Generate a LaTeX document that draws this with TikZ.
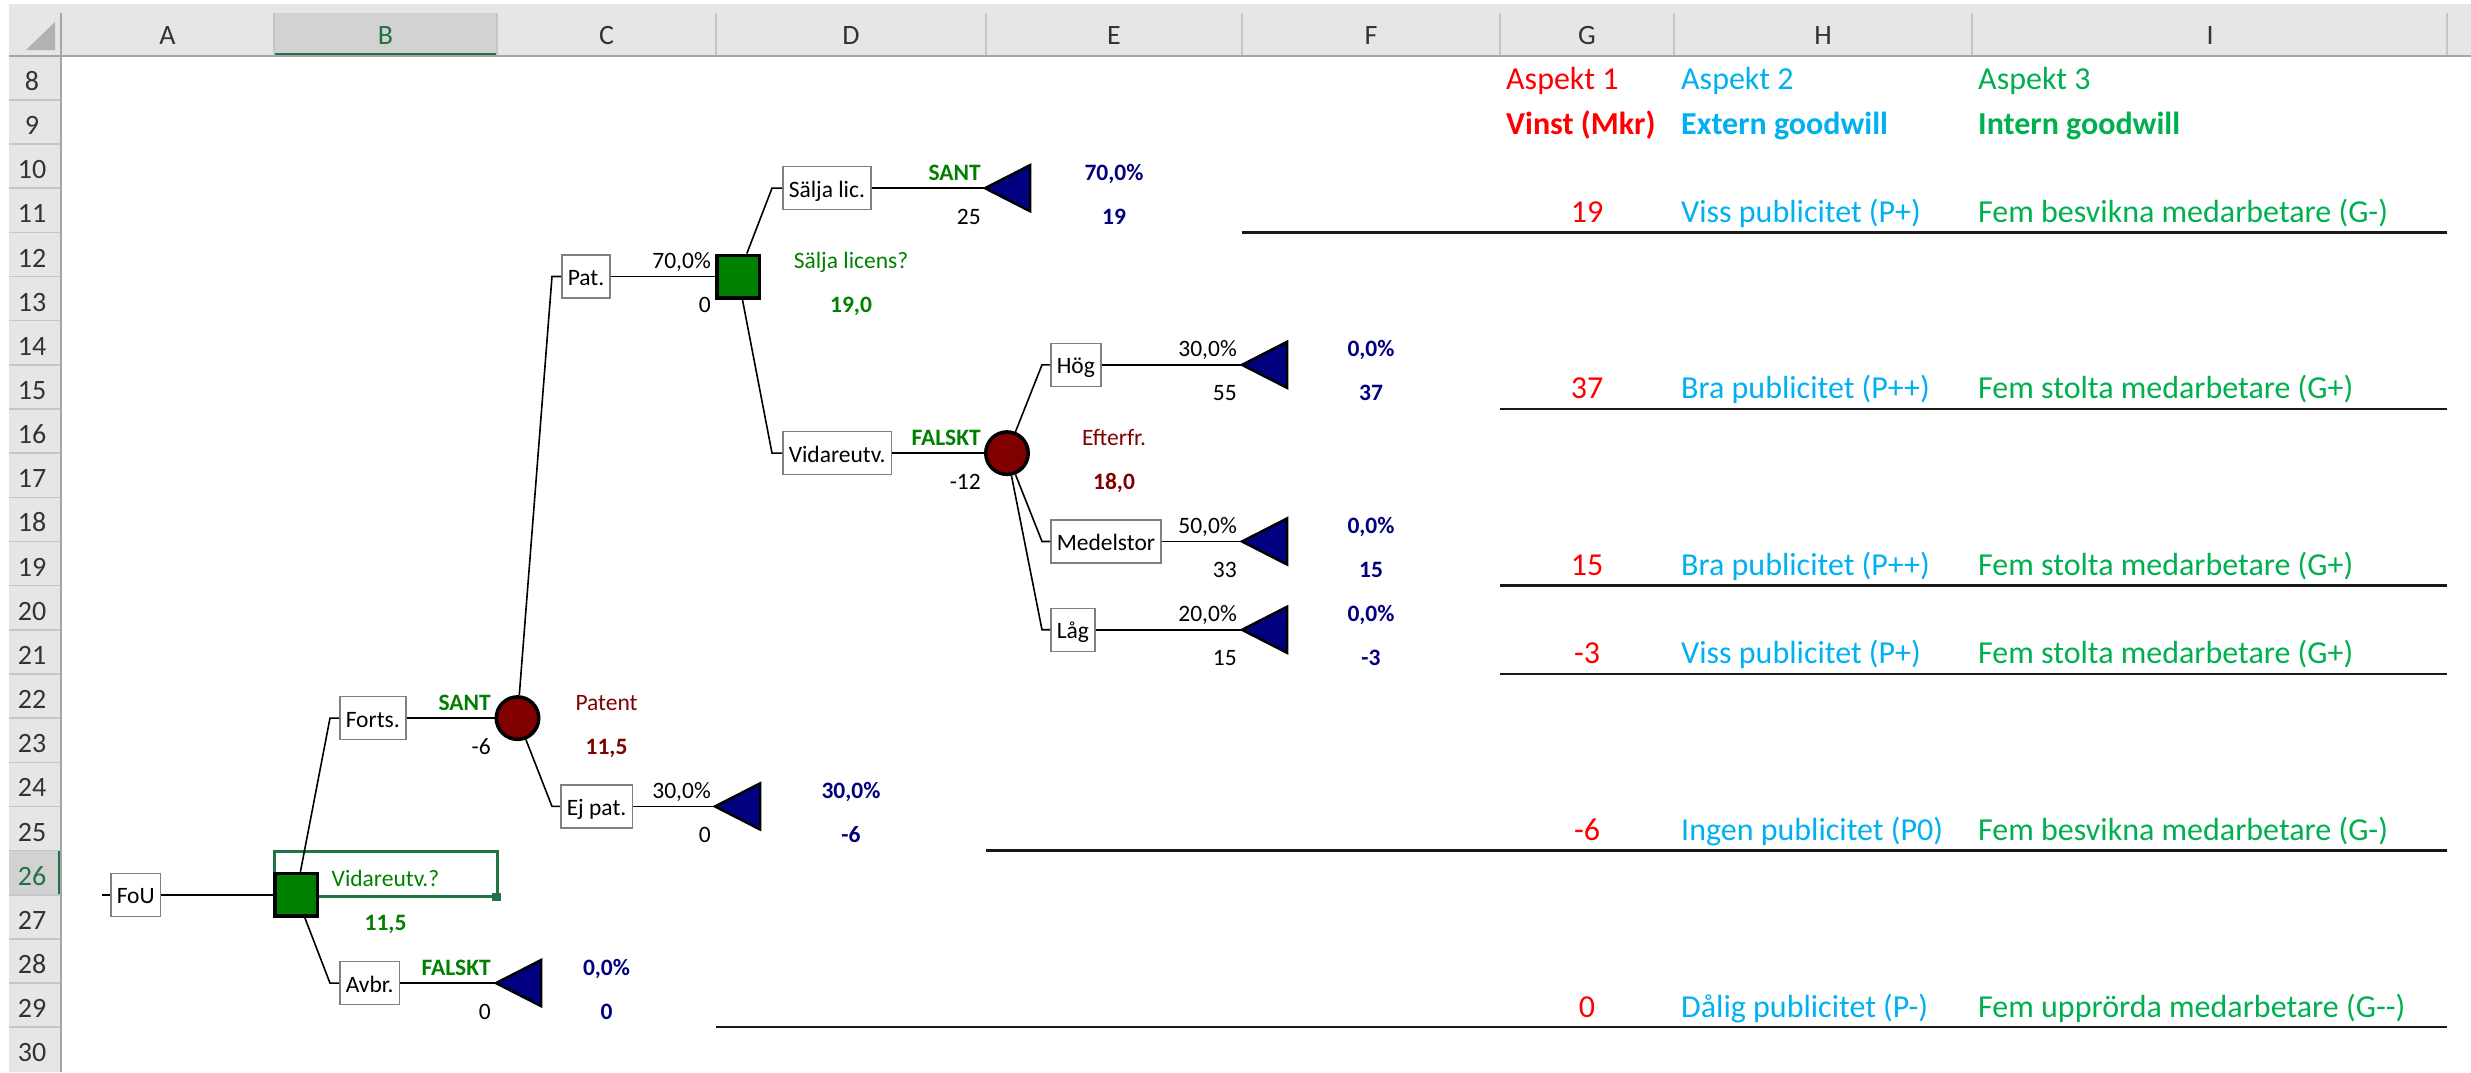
\documentclass[tikz,border=0pt]{standalone}
\usepackage{fontspec}
\setmainfont{Carlito}
\usetikzlibrary{calc}

\definecolor{hdrbg}{HTML}{E6E6E6}
\definecolor{hdrsel}{HTML}{D2D2D2}
\definecolor{hdrline}{HTML}{C6C6C6}
\definecolor{hdrbot}{HTML}{A6A6A6}
\definecolor{hdrtext}{HTML}{333333}
\definecolor{xlgreen}{HTML}{217346}
\definecolor{decgreen}{HTML}{008000}
\definecolor{chred}{HTML}{800000}
\definecolor{endnavy}{HTML}{000080}
\definecolor{boxgray}{HTML}{808080}
\definecolor{asp1}{HTML}{FF0000}
\definecolor{asp2}{HTML}{00B0F0}
\definecolor{asp3}{HTML}{00B050}

\newcommand\treefont{\fontsize{23.5}{28}\selectfont}
\newcommand\cellfont{\fontsize{32}{38}\selectfont}
\newcommand\hdrfont{\fontsize{28}{33}\selectfont}
% bottom edge of a worksheet row
\newcommand\rowb[1]{(55.7+(#1-7)*44.16)}

\begin{document}
\begin{tikzpicture}[x=1pt,y=-1pt,
  branchbox/.style={draw=boxgray, line width=1.5pt, fill=white, font=\treefont,
    minimum height=43pt, inner xsep=6pt, inner ysep=0pt, text height=20pt, text depth=2pt, anchor=west},
  decnode/.style={rectangle, fill=decgreen, draw=black, line width=3.5pt, minimum size=42.5pt, inner sep=0pt},
  chancenode/.style={circle, fill=chred, draw=black, line width=3.5pt, minimum size=42.5pt, inner sep=0pt},
  endtri/.style={fill=endnavy, draw=black, line width=2.5pt, line join=miter},
  conn/.style={draw=black, line width=1.6pt},
  lab/.style={font=\treefont, inner sep=0pt},
  probl/.style={lab, anchor=base east},
  flagl/.style={lab, anchor=base east, font=\treefont\bfseries, text=decgreen},
  endval/.style={lab, anchor=base, font=\treefont\bfseries, text=endnavy},
  chname/.style={lab, anchor=base, text=chred},
  chval/.style={lab, anchor=base, font=\treefont\bfseries, text=chred},
  decname/.style={lab, anchor=base, text=decgreen},
  decval/.style={lab, anchor=base, font=\treefont\bfseries, text=decgreen},
  cellL/.style={font=\cellfont, inner sep=0pt, anchor=base west},
  cellC/.style={font=\cellfont, inner sep=0pt, anchor=base},
  cellrule/.style={draw=black!90, line width=2.5pt},
  hdrlab/.style={font=\hdrfont, inner sep=0pt, anchor=base, text=hdrtext}]

\useasboundingbox (0,0) rectangle (2471,1072);
\fill[white] (0,0) rectangle (2471,1072);

% ---------- worksheet headers ----------
\fill[hdrbg] (9,4) rectangle (2471,56);
\fill[hdrbg] (9,56) rectangle (61,1072);
\fill[hdrsel] (274,13) rectangle (497,53);
\fill[xlgreen] (274,53) rectangle (497,57);
\fill[hdrsel] (9,{\rowb{25}}) rectangle (58,{\rowb{26}});
\fill[xlgreen] (58,{\rowb{25}}) rectangle (61.5,{\rowb{26}});
\fill[black!30] (26,50) -- (55,50) -- (55,22) -- cycle;
\foreach \x in {274,497,716,986,1242,1500,1674,1972,2447}
  \draw[hdrline, line width=1.5pt] (\x,13) -- (\x,55);
\draw[hdrbot, line width=2pt] (9,56) -- (2471,56);
\draw[hdrbot, line width=2pt] (61,13) -- (61,1072);
\foreach \r in {8,...,29}
  \draw[hdrline, line width=1.5pt] (9,{\rowb{\r}}) -- (60,{\rowb{\r}});
\foreach \c/\x in {A/167.5,C/606.5,D/851,E/1114,F/1371,G/1587,H/1823,I/2210}
  \node[hdrlab] (col\c) at (\x,44) {\c};
\node[hdrlab, text=xlgreen] (colB) at (385.5,44) {B};
\foreach \r in {8,...,25,27,28,29,30}
  \node[hdrlab] (row\r) at (32,{\rowb{\r}-9.5}) {\r};
\node[hdrlab, text=xlgreen] (row26) at (32,{\rowb{26}-9.5}) {26};

% ---------- active cell B26 ----------
\draw[xlgreen, line width=3pt] (274,{\rowb{25}+0.5}) rectangle (497,{\rowb{26}+2});
\fill[xlgreen] (492,{\rowb{26}-2}) rectangle (500.5,{\rowb{26}+6.5});

% ---------- decision tree: nodes ----------
\node[decnode] (vidq) at (296,{\rowb{26}}) {};
\node[chancenode] (patent) at (517.5,{\rowb{22}}) {};
\node[decnode] (licq) at (738,{\rowb{12}}) {};
\node[chancenode] (efter) at (1007,{\rowb{16}}) {};

\node[branchbox] (fou) at (110,{\rowb{26}}) {FoU};
\node[branchbox] (forts) at (339,{\rowb{22}}) {Forts.};
\node[branchbox] (avbr) at (339,{\rowb{28}}) {Avbr.};
\node[branchbox] (pat) at (561,{\rowb{12}}) {Pat.};
\node[branchbox] (ejpat) at (560,{\rowb{24}}) {Ej pat.};
\node[branchbox] (salja) at (782,{\rowb{10}}) {Sälja lic.};
\node[branchbox] (vidare) at (782,{\rowb{16}}) {Vidareutv.};
\node[branchbox] (hog) at (1050,{\rowb{14}}) {Hög};
\node[branchbox] (medel) at (1050,{\rowb{18}}) {Medelstor};
\node[branchbox] (lag) at (1050,{\rowb{20}}) {Låg};

% end points (tips of the terminal triangles)
\coordinate (tlic) at (985,{\rowb{10}});
\coordinate (thog) at (1242,{\rowb{14}});
\coordinate (tmed) at (1242,{\rowb{18}});
\coordinate (tlag) at (1242,{\rowb{20}});
\coordinate (tejpat) at (715,{\rowb{24}});
\coordinate (tavbr) at (496,{\rowb{28}});
\foreach \t in {tlic,thog,tmed,tlag,tejpat,tavbr}
  \draw[endtri] (\t) -- ++(45,-23) -- ++(0,46) -- cycle;

% ---------- decision tree: branches ----------
\draw[conn] ([xshift=-8pt]fou.west) -- (fou.west);
\draw[conn] (fou.east) -- (vidq);
\draw[conn] (vidq) -- ([xshift=-9pt]forts.west) -- (forts.west);
\draw[conn] (vidq) -- ([xshift=-9pt]avbr.west) -- (avbr.west);
\draw[conn] (forts.east) -- (patent);
\draw[conn] (avbr.east) -- (tavbr);
\draw[conn] (patent) -- ([xshift=-9pt]pat.west) -- (pat.west);
\draw[conn] (patent) -- ([xshift=-8pt]ejpat.west) -- (ejpat.west);
\draw[conn] (ejpat.east) -- (tejpat);
\draw[conn] (pat.east) -- (licq);
\draw[conn] (licq) -- ([xshift=-10pt]salja.west) -- (salja.west);
\draw[conn] (licq) -- ([xshift=-10pt]vidare.west) -- (vidare.west);
\draw[conn] (salja.east) -- (tlic);
\draw[conn] (vidare.east) -- (efter);
\draw[conn] (efter) -- ([xshift=-8pt]hog.west) -- (hog.west);
\draw[conn] (efter) -- ([xshift=-8pt]medel.west) -- (medel.west);
\draw[conn] (efter) -- ([xshift=-8pt]lag.west) -- (lag.west);
\draw[conn] (hog.east) -- (thog);
\draw[conn] (medel.east) -- (tmed);
\draw[conn] (lag.east) -- (tlag);

% ---------- decision tree: labels ----------
\node[decname] (vidqname) at (385.5,{\rowb{26}-8}) {Vidareutv.?};
\node[decval] (vidqval) at (385.5,{\rowb{27}-8}) {11,5};
\node[flagl] (fortsflag) at (491,{\rowb{22}-8}) {SANT};
\node[probl] (fortscost) at (491,{\rowb{23}-8}) {-6};
\node[chname] (patentname) at (606.5,{\rowb{22}-8}) {Patent};
\node[chval] (patentval) at (606.5,{\rowb{23}-8}) {11,5};
\node[probl] (ejpatprob) at (711,{\rowb{24}-8}) {30,0\%};
\node[probl] (ejpatcost) at (711,{\rowb{25}-8}) {0};
\node[endval] (ejpatp) at (851,{\rowb{24}-8}) {30,0\%};
\node[endval] (ejpatv) at (851,{\rowb{25}-8}) {-6};
\node[flagl] (avbrflag) at (491,{\rowb{28}-8}) {FALSKT};
\node[probl] (avbrcost) at (491,{\rowb{29}-8}) {0};
\node[endval] (avbrp) at (606.5,{\rowb{28}-8}) {0,0\%};
\node[endval] (avbrv) at (606.5,{\rowb{29}-8}) {0};
\node[probl] (patprob) at (711,{\rowb{12}-8}) {70,0\%};
\node[probl] (patcost) at (711,{\rowb{13}-8}) {0};
\node[decname] (licqname) at (851,{\rowb{12}-8}) {Sälja licens?};
\node[decval] (licqval) at (851,{\rowb{13}-8}) {19,0};
\node[flagl] (saljaflag) at (981,{\rowb{10}-8}) {SANT};
\node[probl] (saljacost) at (981,{\rowb{11}-8}) {25};
\node[endval] (saljap) at (1114,{\rowb{10}-8}) {70,0\%};
\node[endval] (saljav) at (1114,{\rowb{11}-8}) {19};
\node[flagl] (vidareflag) at (981,{\rowb{16}-8}) {FALSKT};
\node[probl] (vidarecost) at (981,{\rowb{17}-8}) {-12};
\node[chname] (eftername) at (1114,{\rowb{16}-8}) {Efterfr.};
\node[chval] (efterval) at (1114,{\rowb{17}-8}) {18,0};
\node[probl] (hogprob) at (1237,{\rowb{14}-8}) {30,0\%};
\node[probl] (hogcost) at (1237,{\rowb{15}-8}) {55};
\node[endval] (hogp) at (1371,{\rowb{14}-8}) {0,0\%};
\node[endval] (hogv) at (1371,{\rowb{15}-8}) {37};
\node[probl] (medprob) at (1237,{\rowb{18}-8}) {50,0\%};
\node[probl] (medcost) at (1237,{\rowb{19}-8}) {33};
\node[endval] (medp) at (1371,{\rowb{18}-8}) {0,0\%};
\node[endval] (medv) at (1371,{\rowb{19}-8}) {15};
\node[probl] (lagprob) at (1237,{\rowb{20}-8}) {20,0\%};
\node[probl] (lagcost) at (1237,{\rowb{21}-8}) {15};
\node[endval] (lagp) at (1371,{\rowb{20}-8}) {0,0\%};
\node[endval] (lagv) at (1371,{\rowb{21}-8}) {-3};

% ---------- aspect columns ----------
\node[cellL, text=asp1] (asp1a) at (1506,{\rowb{8}-10}) {Aspekt 1};
\node[cellL, text=asp1, font=\cellfont\bfseries] (asp1b) at (1506,{\rowb{9}-10}) {Vinst (Mkr)};
\node[cellL, text=asp2] (asp2a) at (1681,{\rowb{8}-10}) {Aspekt 2};
\node[cellL, text=asp2, font=\cellfont\bfseries] (asp2b) at (1681,{\rowb{9}-10}) {Extern goodwill};
\node[cellL, text=asp3] (asp3a) at (1978,{\rowb{8}-10}) {Aspekt 3};
\node[cellL, text=asp3, font=\cellfont\bfseries] (asp3b) at (1978,{\rowb{9}-10}) {Intern goodwill};

\foreach \r/\v/\pub/\staff in {
    11/19/{Viss publicitet (P+)}/{Fem besvikna medarbetare (G-)},
    15/37/{Bra publicitet (P++)}/{Fem stolta medarbetare (G+)},
    19/15/{Bra publicitet (P++)}/{Fem stolta medarbetare (G+)},
    21/-3/{Viss publicitet (P+)}/{Fem stolta medarbetare (G+)},
    25/-6/{Ingen publicitet (P0)}/{Fem besvikna medarbetare (G-)},
    29/0/{Dålig publicitet (P-)}/{Fem upprörda medarbetare (G-{}-)}} {
  \node[cellC, text=asp1] (vin\r) at (1587,{\rowb{\r}-10}) {\v};
  \node[cellL, text=asp2] (ext\r) at (1681,{\rowb{\r}-10}) {\pub};
  \node[cellL, text=asp3] (int\r) at (1978,{\rowb{\r}-10}) {\staff};
}

% cell borders under the outcome rows
\draw[cellrule] (1242,{\rowb{11}}) -- (2447,{\rowb{11}});
\draw[cellrule] (1500,{\rowb{15}}) -- (2447,{\rowb{15}});
\draw[cellrule] (1500,{\rowb{19}}) -- (2447,{\rowb{19}});
\draw[cellrule] (1500,{\rowb{21}}) -- (2447,{\rowb{21}});
\draw[cellrule] (986,{\rowb{25}}) -- (2447,{\rowb{25}});
\draw[cellrule] (716,{\rowb{29}}) -- (2447,{\rowb{29}});
\end{tikzpicture}
\end{document}
